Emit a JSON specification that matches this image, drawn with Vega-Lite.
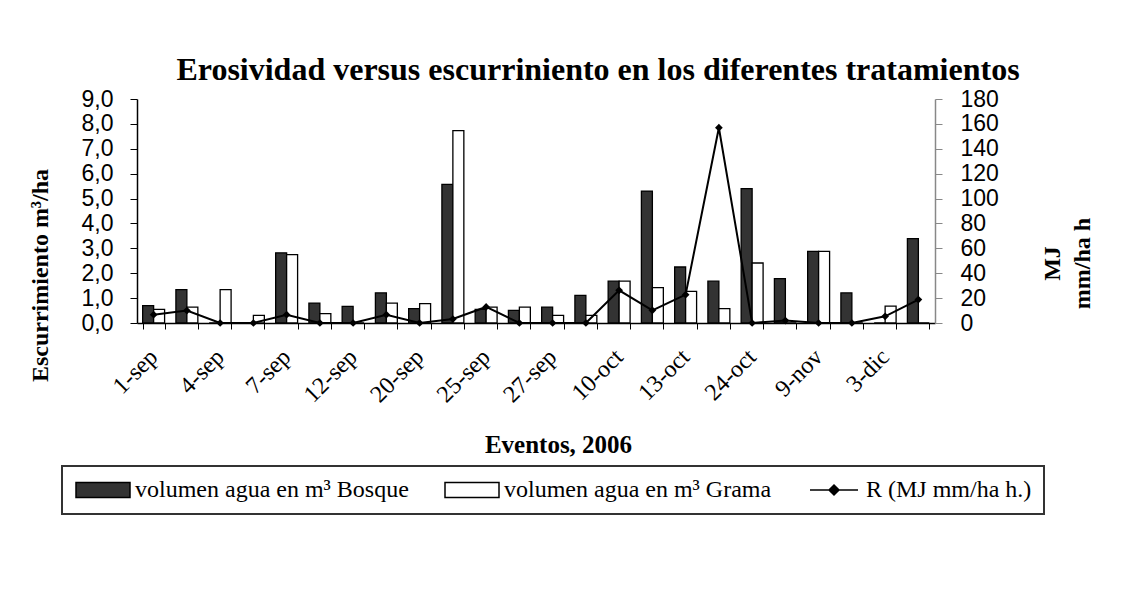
{
  "$schema": "https://vega.github.io/schema/vega-lite/v6.json",
  "width": 798,
  "height": 224,
  "autosize": {"type": "none"},
  "padding": {"left": 137, "top": 99, "right": 211, "bottom": 271},
  "background": "white",
  "title": {
    "text": "Erosividad versus escurriniento en los diferentes tratamientos",
    "font": "Liberation Serif",
    "fontSize": 32,
    "fontWeight": "bold",
    "color": "black",
    "anchor": "middle",
    "dx": 62,
    "offset": -24,
    "baseline": "alphabetic"
  },
  "config": {
    "view": {"stroke": null},
    "legend": {"strokeWidth": 2}
  },
  "data": {
    "values": [
      {"n": 0, "bosque": 0.70, "grama": 0.55, "R": 6.7},
      {"n": 1, "bosque": 1.34, "grama": 0.64, "R": 10},
      {"n": 2, "bosque": 0, "grama": 1.34, "R": 0},
      {"n": 3, "bosque": 0, "grama": 0.31, "R": 0},
      {"n": 4, "bosque": 2.82, "grama": 2.75, "R": 6.7},
      {"n": 5, "bosque": 0.80, "grama": 0.38, "R": 0},
      {"n": 6, "bosque": 0.67, "grama": 0, "R": 0},
      {"n": 7, "bosque": 1.21, "grama": 0.80, "R": 6.7},
      {"n": 8, "bosque": 0.58, "grama": 0.78, "R": 0},
      {"n": 9, "bosque": 5.57, "grama": 7.73, "R": 3.2},
      {"n": 10, "bosque": 0.55, "grama": 0.64, "R": 12.9},
      {"n": 11, "bosque": 0.51, "grama": 0.64, "R": 0},
      {"n": 12, "bosque": 0.64, "grama": 0.31, "R": 0},
      {"n": 13, "bosque": 1.11, "grama": 0.31, "R": 0},
      {"n": 14, "bosque": 1.68, "grama": 1.68, "R": 26.3},
      {"n": 15, "bosque": 5.30, "grama": 1.42, "R": 10.2},
      {"n": 16, "bosque": 2.25, "grama": 1.27, "R": 22.8},
      {"n": 17, "bosque": 1.68, "grama": 0.58, "R": 156.9},
      {"n": 18, "bosque": 5.40, "grama": 2.41, "R": 0},
      {"n": 19, "bosque": 1.78, "grama": 0, "R": 2},
      {"n": 20, "bosque": 2.88, "grama": 2.88, "R": 0},
      {"n": 21, "bosque": 1.21, "grama": 0, "R": 0},
      {"n": 22, "bosque": 0, "grama": 0.68, "R": 5.4},
      {"n": 23, "bosque": 3.39, "grama": 0, "R": 18.8}
    ]
  },
  "encoding": {
    "x": {
      "field": "n",
      "type": "ordinal",
      "scale": {"paddingInner": 0.34, "paddingOuter": 0.17},
      "axis": {
        "title": "Eventos, 2006",
        "labelExpr": "['1-sep','','4-sep','','7-sep','','12-sep','','20-sep','','25-sep','','27-sep','','10-oct','','13-oct','','24-oct','','9-nov','','3-dic',''][datum.value]",
        "labelAngle": -45,
        "labelAlign": "right",
        "labelBaseline": "middle",
        "labelFont": "Liberation Serif",
        "labelFontSize": 24,
        "labelColor": "black",
        "labelPadding": 24,
        "labelOverlap": false,
        "tickBand": "extent",
        "tickSize": 6,
        "tickColor": "black",
        "domainColor": "black",
        "domainWidth": 1.5,
        "grid": false,
        "titleFont": "Liberation Serif",
        "titleFontSize": 25,
        "titleFontWeight": "bold",
        "titleColor": "black",
        "titleX": 421,
        "titleY": 129,
        "titleAlign": "center",
        "titleBaseline": "alphabetic"
      }
    }
  },
  "layer": [
    {
      "transform": [{"fold": ["bosque", "grama"], "as": ["serie", "valor"]}],
      "mark": {"type": "bar", "stroke": "black", "strokeWidth": 1.3},
      "encoding": {
        "xOffset": {"field": "serie", "type": "nominal", "scale": {"domain": ["bosque", "grama"]}},
        "y": {
          "field": "valor",
          "type": "quantitative",
          "scale": {"domain": [0, 9], "nice": false},
          "axis": {
            "title": "Escurrimiento m³/ha",
            "values": [0, 1, 2, 3, 4, 5, 6, 7, 8, 9],
            "labelExpr": "replace(format(datum.value, '.1f'), '.', ',')",
            "labelFont": "Liberation Sans",
            "labelFontSize": 23,
            "labelColor": "black",
            "labelPadding": 17,
            "labelOverlap": false,
            "labelFlush": false,
            "tickSize": 7,
            "tickColor": "black",
            "domainColor": "black",
            "domainWidth": 1.5,
            "grid": false,
            "titleFont": "Liberation Serif",
            "titleFontSize": 24,
            "titleFontWeight": "bold",
            "titleColor": "black",
            "titleAngle": 270,
            "titleX": -90,
            "titleY": 176,
            "titleAlign": "center",
            "titleBaseline": "alphabetic"
          }
        },
        "fill": {
          "field": "serie",
          "type": "nominal",
          "scale": {"domain": ["bosque", "grama", "R"], "range": ["#333333", "#ffffff", "#000000"]},
          "legend": {
            "orient": "none",
            "legendX": -75,
            "legendY": 367,
            "direction": "horizontal",
            "columns": 3,
            "title": null,
            "labelExpr": "datum.value == 'bosque' ? 'volumen agua en m³ Bosque' : datum.value == 'grama' ? 'volumen agua en m³ Grama' : 'R (MJ mm/ha h.)'",
            "labelFont": "Liberation Serif",
            "labelFontSize": 24,
            "labelColor": "black",
            "labelOffset": 37,
            "labelLimit": 400,
            "columnPadding": 33,
            "symbolSize": 400,
            "symbolType": {"expr": "datum.value == 'R' ? 'M-0.7,0H4.1M1.7,-0.5L2.2,0L1.7,0.5L1.2,0Z' : 'M-1,-0.75H4.4V0.75H-1Z'"},
            "symbolStrokeColor": "black",
            "symbolStrokeWidth": 1.5,
            "strokeColor": "#333333",
            "padding": 12
          }
        }
      }
    },
    {
      "mark": {"type": "line", "color": "black", "strokeWidth": 2, "point": {"shape": "diamond", "size": 60, "filled": true, "color": "black"}},
      "encoding": {
        "y": {
          "field": "R",
          "type": "quantitative",
          "scale": {"domain": [0, 180], "nice": false},
          "axis": {
            "orient": "right",
            "title": ["MJ", "mm/ha h"],
            "values": [0, 20, 40, 60, 80, 100, 120, 140, 160, 180],
            "labelFont": "Liberation Sans",
            "labelFontSize": 23,
            "labelColor": "black",
            "labelPadding": 18,
            "labelOverlap": false,
            "labelFlush": false,
            "tickSize": 7,
            "tickColor": "#888888",
            "domainColor": "#888888",
            "domainWidth": 1.5,
            "grid": false,
            "titleFont": "Liberation Serif",
            "titleFontSize": 24,
            "titleFontWeight": "bold",
            "titleColor": "black",
            "titleAngle": 270,
            "titleX": 124,
            "titleY": 164,
            "titleAlign": "center",
            "titleBaseline": "alphabetic",
            "titleLineHeight": 30
          }
        }
      }
    }
  ],
  "resolve": {"scale": {"y": "independent"}}
}
